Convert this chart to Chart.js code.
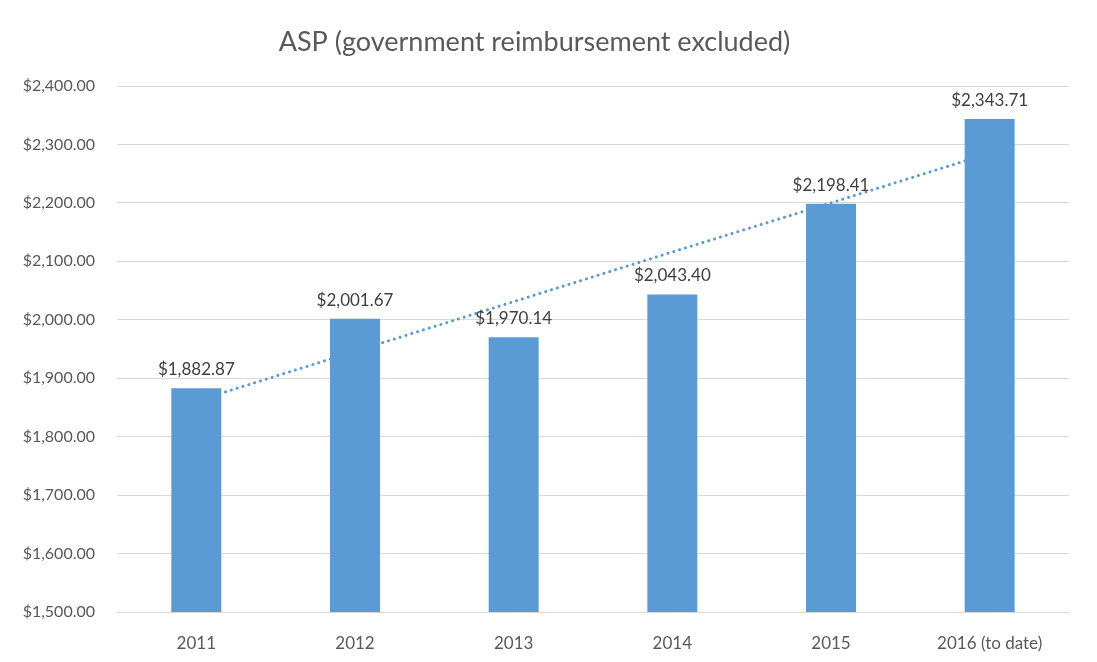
<!DOCTYPE html>
<html>
<head>
<meta charset="utf-8">
<script src="https://cdn.jsdelivr.net/npm/chart.js@4"></script>
<style>
  html, body { margin: 0; padding: 0; background: #fff; }
  #wrap { width: 1097px; height: 662px; }
</style>
</head>
<body>
<div id="wrap"><canvas id="myChart"></canvas></div>
<script>
const years = ['2011', '2012', '2013', '2014', '2015', '2016 (to date)'];
const asp = [1882.87, 2001.67, 1970.14, 2043.40, 2198.41, 2343.71];
// dotted trend line at each category centre
const trend = [1861, 1946, 2031, 2116, 2200, 2285];

const yMin = 1500;
const yMax = 2400;
const yStep = 100;

const textColor = '#595959';
const barColor = '#5B9BD5';
const gridColor = '#D9D9D9';
const fontFamily = 'Lato, "Open Sans", sans-serif';

const money = (v) => '$' + v.toLocaleString('en-US', {minimumFractionDigits: 2, maximumFractionDigits: 2});

// labels above the bars
const barLabels = {
    id: 'barLabels',
    afterDatasetsDraw(chart) {
        const ctx = chart.ctx;
        const meta = chart.getDatasetMeta(0);
        ctx.save();
        ctx.font = '17px ' + fontFamily;
        ctx.fillStyle = '#404040';
        ctx.textAlign = 'center';
        ctx.textBaseline = 'bottom';
        meta.data.forEach((bar, i) => {
            ctx.fillText(money(asp[i]), bar.x, bar.y - 10);
        });
        ctx.restore();
    }
};

const ctx = document.getElementById('myChart');

new Chart(ctx, {
    data: {
        labels: years,
        datasets: [{
            type: 'bar',
            label: 'ASP',
            data: asp,
            backgroundColor: barColor,
            borderWidth: 0,
            barPercentage: 1,
            categoryPercentage: 0.315,
            order: 1
        }, {
            type: 'line',
            label: 'Trend',
            data: trend,
            borderColor: barColor,
            borderWidth: 3,
            borderDash: [0.1, 6],
            borderCapStyle: 'round',
            pointRadius: 0,
            fill: false,
            tension: 0,
            order: 2
        }]
    },
    options: {
        responsive: true,
        maintainAspectRatio: false,
        animation: false,
        layout: { padding: { left: 0, right: 28, top: 0, bottom: 0 } },
        plugins: {
            legend: { display: false },
            tooltip: { enabled: false },
            title: {
                display: true,
                text: 'ASP (government reimbursement excluded)',
                color: textColor,
                font: { family: fontFamily, size: 27, weight: 'normal' },
                padding: { top: 26, bottom: 27.6 }
            }
        },
        scales: {
            x: {
                grid: { display: false },
                border: { color: gridColor, width: 1 },
                ticks: {
                    color: textColor,
                    font: { family: fontFamily, size: 17 },
                    padding: 13
                },
                afterFit(scale) { scale.height = 50; }
            },
            y: {
                min: yMin,
                max: yMax,
                grid: { color: gridColor, drawTicks: false },
                border: { display: false },
                ticks: {
                    stepSize: yStep,
                    color: textColor,
                    font: { family: fontFamily, size: 16 },
                    padding: 22,
                    callback: (v) => money(v)
                },
                afterFit(scale) { scale.width = 117; }
            }
        }
    },
    plugins: [barLabels]
});
</script>
</body>
</html>
